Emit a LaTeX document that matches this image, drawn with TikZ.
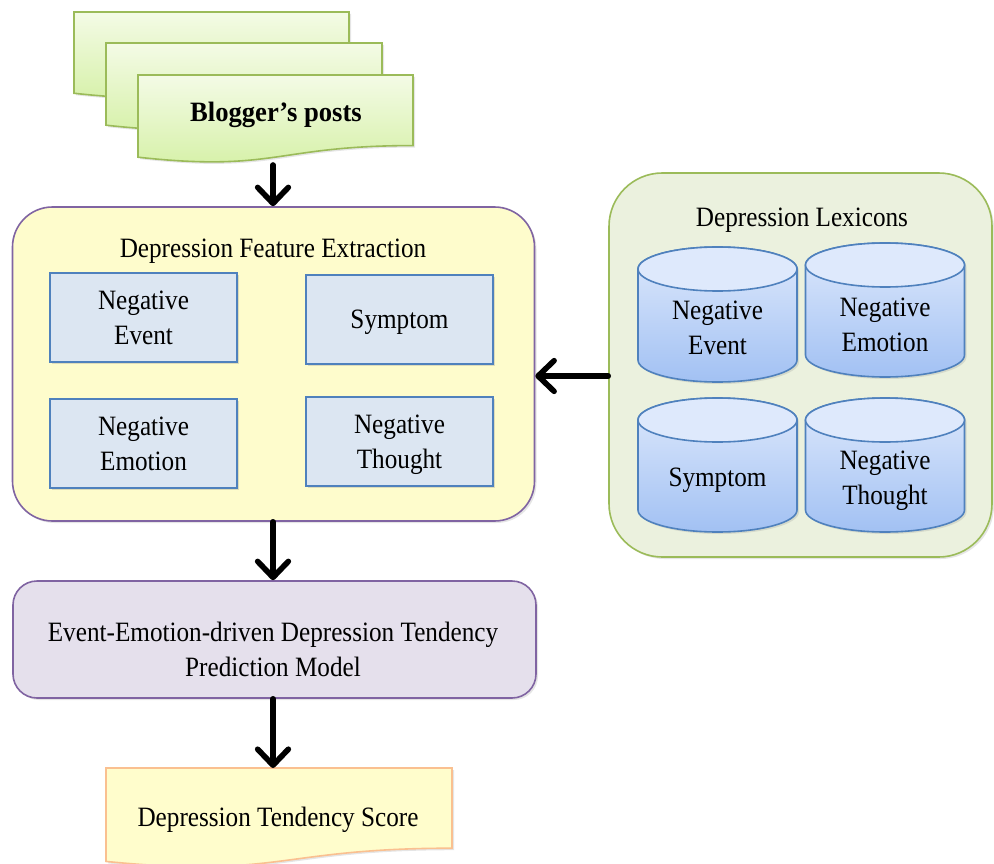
\documentclass[tikz,border=0pt]{standalone}
\usepackage{fontspec}
\setmainfont[FakeStretch=0.9]{Liberation Serif}
\newfontfamily\boldser[FakeStretch=0.95]{Liberation Serif}
\usetikzlibrary{arrows.meta,shadows,calc}
\definecolor{grnbd}{RGB}{155,187,89}
\definecolor{grntop}{RGB}{244,251,230}
\definecolor{grnbot}{RGB}{212,240,164}
\definecolor{purbd}{RGB}{128,100,162}
\definecolor{featfill}{RGB}{254,252,204}
\definecolor{modfill}{RGB}{229,224,236}
\definecolor{blubd}{RGB}{79,129,189}
\definecolor{boxfill}{RGB}{220,230,242}
\definecolor{lexfill}{RGB}{235,241,222}
\definecolor{cyltop}{RGB}{222,233,252}
\definecolor{cylbot}{RGB}{162,193,243}
\definecolor{scorebd}{RGB}{250,192,144}
\definecolor{scorefill}{RGB}{255,253,204}
\tikzset{
  txt/.style={font=\fontsize{21}{26}\selectfont, align=center, inner sep=0pt, text depth=0pt},
  postdoc/.style={draw=grnbd, line width=1.2pt, top color=grntop, bottom color=grnbot,
     drop shadow={opacity=0.2, shadow xshift=1.5pt, shadow yshift=-1.5pt}},
  bigbox/.style={draw=purbd, line width=1.2pt, rounded corners=30pt,
     drop shadow={opacity=0.2, shadow xshift=1.5pt, shadow yshift=-1.5pt}},
  featbox/.style={draw=blubd, line width=1.4pt, fill=boxfill, txt,
     minimum width=140.25pt, minimum height=66.75pt,
     drop shadow={opacity=0.25, shadow xshift=1.5pt, shadow yshift=-1.5pt}},
  cylbody/.style={draw=blubd, line width=1.2pt, top color=cyltop, bottom color=cylbot,
     drop shadow={opacity=0.2, shadow xshift=1.5pt, shadow yshift=-1.5pt}},
  cyllid/.style={draw=blubd, line width=1.2pt, fill=cyltop},
  flow/.style={line width=4.2pt, line cap=round, line join=round,
     -{Straight Barb[length=12pt, width=23pt, line cap=round, line join=round]}},
}
\newcommand\lexcyl[3]{%
  \path[cylbody] ({#1-79.5},{#2+22}) -- ({#1-79.5},{#3-22})
     arc[start angle=180, end angle=0, x radius=79.5, y radius=22]
     -- ({#1+79.5},{#2+22})
     arc[start angle=0, end angle=-180, x radius=79.5, y radius=22] -- cycle;
  \path[cyllid] (#1,{#2+22}) ellipse [x radius=79.5, y radius=22];
}
\newcommand\wavydoc[5]{% L T R H style
  \path[#5] (#1,#2) -- (#3,#2) -- (#3,{#2+0.802*#4})
    .. controls ({(#1+#3)/2},{#2+0.802*#4}) and ({(#1+#3)/2},{#2+1.107*#4}) ..
    (#1,{#2+0.934*#4}) -- cycle;
}
\begin{document}
\begin{tikzpicture}[x=0.75pt, y=-0.75pt]
\useasboundingbox (0,0) rectangle (994,863);
\fill[white] (0,0) rectangle (994,863);
\begin{scope}
\clip (0,0) rectangle (994,863);
% Blogger's posts stack
\wavydoc{74}{12}{349}{87}{postdoc}
\wavydoc{106}{43}{382}{88}{postdoc}
\wavydoc{138}{75}{413}{88}{postdoc}
\node[txt, font=\boldser\bfseries\fontsize{21}{26}\selectfont] (posts) at (276,112) {Blogger’s posts};
\coordinate (postsbot) at (273,165);

% Feature extraction box
\node[bigbox, fill=featfill, minimum width=391.5pt, minimum height=235.5pt] (feat) at (273.5,364) {};
\node[txt] (feattitle) at (273,248) {Depression Feature Extraction};
\node[featbox] (fevent) at (143.5,317.5) {Negative\\Event};
\node[featbox] (fsym) at (399.5,319.5) {Symptom};
\node[featbox] (femo) at (143.5,443.5) {Negative\\Emotion};
\node[featbox] (fthought) at (399.5,441.5) {Negative\\Thought};

% Lexicons box
\node[bigbox, draw=grnbd, fill=lexfill, rounded corners=40pt, minimum width=287.25pt, minimum height=288pt] (lex) at (800.5,365) {};
\node[txt] (lextitle) at (802,217) {Depression Lexicons};
\lexcyl{717.5}{247}{382}
\lexcyl{885}{243}{377}
\lexcyl{717.5}{398}{532}
\lexcyl{885}{398}{532}
\node[txt] (levent) at (717.5,328) {Negative\\Event};
\node[txt] (lemo) at (885,325) {Negative\\Emotion};
\node[txt] (lsym) at (717.5,477) {Symptom};
\node[txt] (lthought) at (885,478) {Negative\\Thought};

% Model box
\node[bigbox, fill=modfill, rounded corners=18pt, minimum width=392.25pt, minimum height=87.75pt] (model) at (274.5,639.5) {};
\node[txt] (modeltext) at (273,649) {Event-Emotion-driven Depression Tendency\\Prediction Model};

% Score document
\wavydoc{106}{768}{452}{100}{draw=scorebd, line width=1.2pt, fill=scorefill, drop shadow={opacity=0.2, shadow xshift=1.5pt, shadow yshift=-1.5pt}}
\node[txt] (score) at (278,817) {Depression Tendency Score};
\coordinate (scoretop) at (273,768);

% arrows
\coordinate (arrowy) at (0,376);
\draw[flow] (postsbot) -- (postsbot |- feat.north);
\draw[flow] (lex.west |- arrowy) -- (feat.east |- arrowy);
\draw[flow] (postsbot |- feat.south) -- (postsbot |- model.north);
\draw[flow] (postsbot |- model.south) -- (scoretop);
\end{scope}
\end{tikzpicture}
\end{document}
